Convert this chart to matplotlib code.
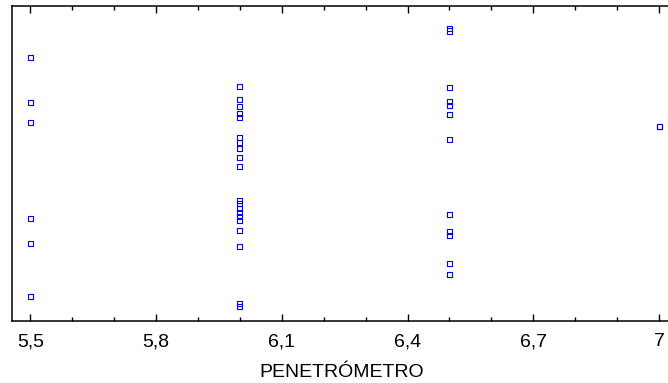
import matplotlib.pyplot as plt

plt.rcParams['font.family'] = ['Liberation Sans', 'DejaVu Sans']

# penetrómetro (x) e valores lidos no eixo vertical (sem escala visível)
pen_55 = [83.7, 69.4, 63.0, 32.6, 24.7, 7.9]
pen_60 = [74.4, 70.4, 68.0, 65.9, 64.5, 58.2, 56.6, 54.8, 51.8, 49.2,
          38.4, 37.4, 35.6, 34.5, 33.1, 31.8, 28.7, 23.8, 5.6, 4.5]
pen_65 = [92.9, 92.1, 74.1, 69.8, 68.3, 65.6, 57.5, 33.7, 28.3, 27.0, 18.1, 14.6]
pen_70 = [61.7, 61.7]

xticks = [5.5, 5.8, 6.1, 6.4, 6.7, 7.0]
xlabels = ['5,5', '5,8', '6,1', '6,4', '6,7', '7']
xminor = [5.6, 5.7, 5.9, 6.0, 6.2, 6.3, 6.5, 6.6, 6.8, 6.9]

x = [5.5] * len(pen_55) + [6.0] * len(pen_60) + [6.5] * len(pen_65) + [7.0] * len(pen_70)
y = pen_55 + pen_60 + pen_65 + pen_70

fig = plt.figure(figsize=(6.68, 3.83), dpi=100)
ax = fig.add_axes([0.0175, 0.162, 0.988, 0.822])

ax.scatter(x, y, marker='s', s=13, facecolors='none', edgecolors='#0000ff', linewidths=0.8)

ax.set_xlim(5.4556, 7.03)
ax.set_ylim(0, 100)

ax.set_xticks(xticks)
ax.set_xticklabels(xlabels)
ax.set_xticks(xminor, minor=True)
ax.tick_params(axis='x', which='both', direction='in', top=True, bottom=True,
               labelsize=14, pad=9, width=1)
ax.tick_params(axis='x', which='major', length=5)
ax.tick_params(axis='x', which='minor', length=3)
ax.set_yticks([])

for s in ax.spines.values():
    s.set_linewidth(1.1)

ax.set_xlabel('PENETRÓMETRO', fontsize=14, labelpad=10)

fig.savefig('out.png', dpi=100)
